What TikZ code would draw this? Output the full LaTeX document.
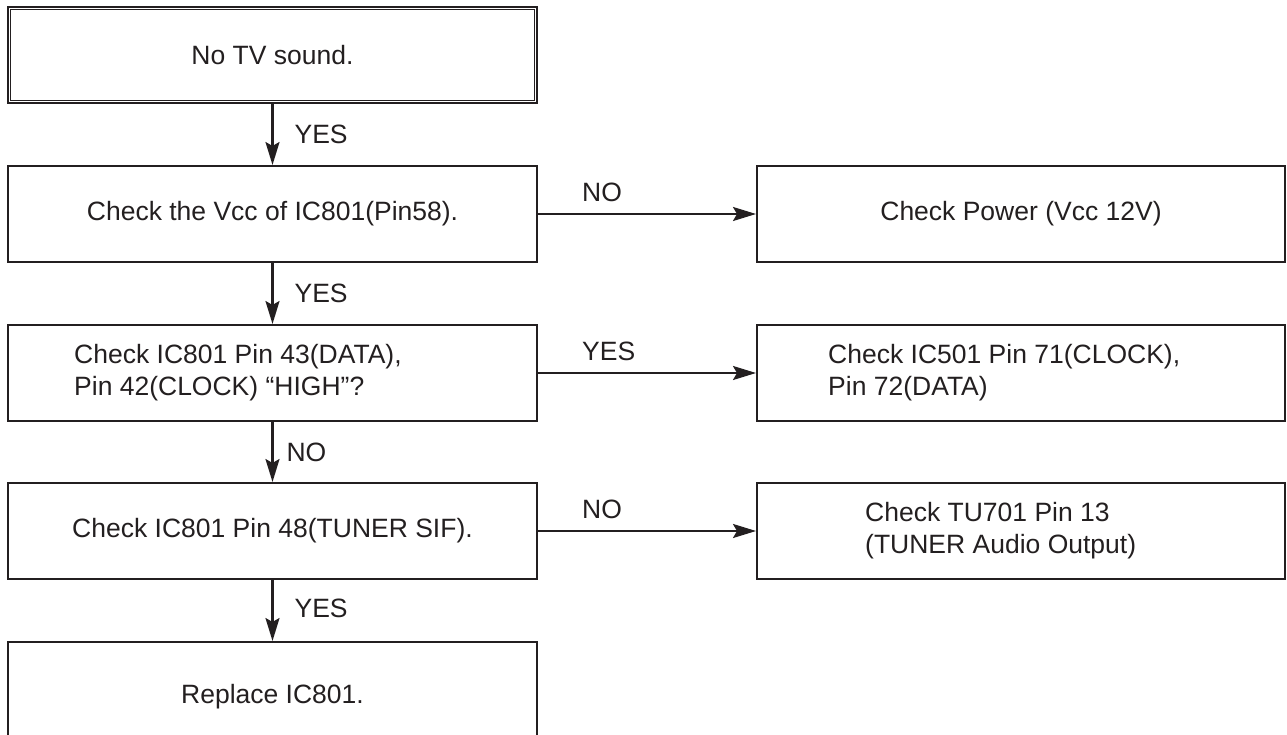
\documentclass[tikz,border=0pt]{standalone}
\usepackage{fontspec}
\setmainfont{Liberation Sans}
\usetikzlibrary{arrows.meta,calc}
\definecolor{ink}{RGB}{35,31,32}
\begin{document}
\begin{tikzpicture}[x=1pt,y=-1pt,
  box/.style={draw=ink,line width=2pt,minimum width=529pt,minimum height=96pt,inner sep=0pt,text=ink,align=center},
  rbox/.style={box,minimum width=528pt},
  txt/.style={inner sep=0pt,text=ink,align=left,anchor=west},
  lab/.style={inner sep=0pt,text=ink,anchor=west},
  arr/.style={draw=ink,line width=2.2pt,-{Stealth[length=23pt,width=14pt,inset=4pt]}},
  every node/.append style={font=\fontsize{26.5}{32}\selectfont}]
\useasboundingbox (0,0) rectangle (1287,735);
\clip (0,0) rectangle (1287,735);
% left column
\node[box,line width=2.4pt] (top) at (272.5,55) {No TV sound.};
\draw[ink,line width=0.9pt] ([shift={(4,4)}]top.north west) rectangle ([shift={(-4,-4)}]top.south east);
\node[box] (b2) at (272.5,214) {Check the Vcc of IC801(Pin58).};
\node[box] (b3) at (272.5,373) {};
\node[txt] (t3) at ([xshift=67pt]b3.west) {Check IC801 Pin 43(DATA),\\Pin 42(CLOCK) “HIGH”?};
\node[box] (b4) at (272.5,531) {Check IC801 Pin 48(TUNER SIF).};
\node[box,minimum height=110pt] (b5) at (272.5,697) {Replace IC801.};
% right column
\node[rbox] (r2) at (1021,214) {Check Power (Vcc 12V)};
\node[rbox] (r3) at (1021,373) {};
\node[txt] (t r3) at ([xshift=72pt]r3.west) {Check IC501 Pin 71(CLOCK),\\Pin 72(DATA)};
\node[rbox] (r4) at (1021,531) {};
\node[txt] (t r4) at ([xshift=109pt]r4.west) {Check TU701 Pin 13\\(TUNER Audio Output)};
% vertical arrows
\draw[arr] (top.south) -- (b2.north) node[lab,midway,xshift=21pt] (l1) {YES};
\draw[arr] (b2.south) -- (b3.north) node[lab,midway,xshift=21pt] (l2) {YES};
\draw[arr] (b3.south) -- (b4.north) node[lab,midway,xshift=13pt] (l3) {NO};
\draw[arr] (b4.south) -- (b5.north) node[lab,midway,xshift=21pt,yshift=2pt] (l4) {YES};
% horizontal arrows
\draw[arr] (b2.east) -- (r2.west);
\node[lab] (h1) at ([xshift=44pt,yshift=22pt]b2.east) {NO};
\draw[arr] (b3.east) -- (r3.west);
\node[lab] (h2) at ([xshift=44pt,yshift=22pt]b3.east) {YES};
\draw[arr] (b4.east) -- (r4.west);
\node[lab] (h3) at ([xshift=44pt,yshift=22pt]b4.east) {NO};
\end{tikzpicture}
\end{document}
